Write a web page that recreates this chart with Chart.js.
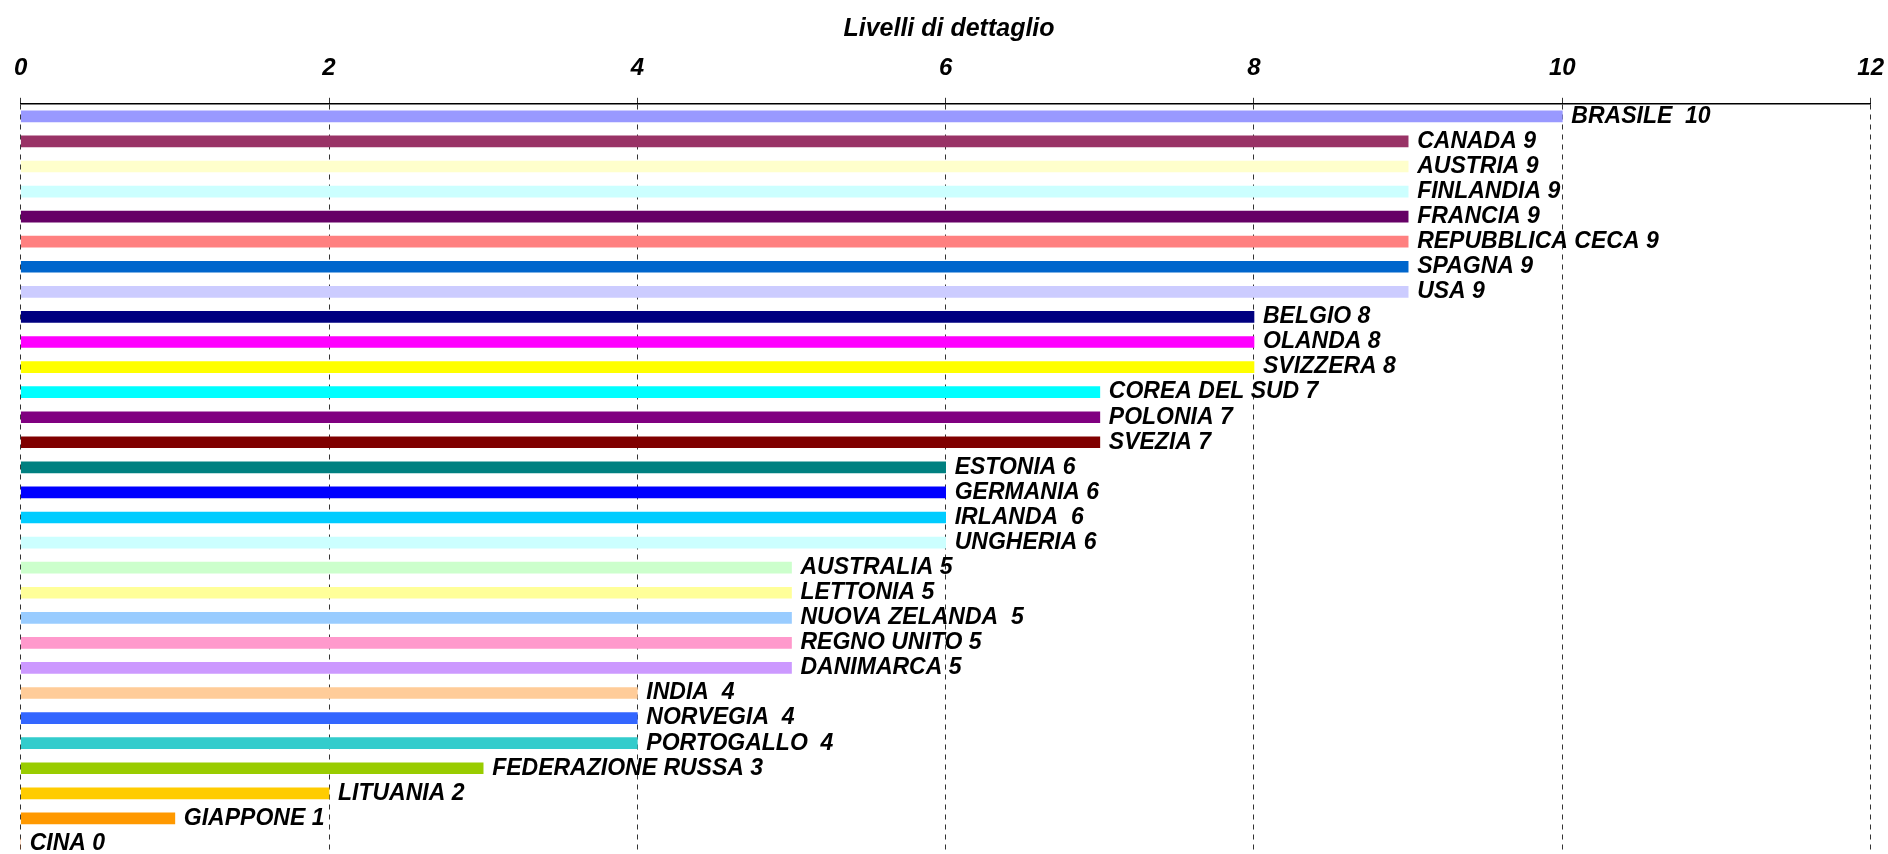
<!DOCTYPE html>
<html>
<head>
<meta charset="utf-8">
<script src="https://cdn.jsdelivr.net/npm/chart.js@4/dist/chart.umd.min.js"></script>
<style>
  body { margin: 0; overflow: hidden; background: #fff; }
  #wrap { position: relative; width: 1900px; height: 870px; margin-left: -1px; }
</style>
</head>
<body>
<div id="wrap"><canvas id="levelsChart"></canvas></div>
<script>
const countries = [
  "BRASILE", "CANADA", "AUSTRIA", "FINLANDIA", "FRANCIA", "REPUBBLICA CECA",
  "SPAGNA", "USA", "BELGIO", "OLANDA", "SVIZZERA", "COREA DEL SUD", "POLONIA",
  "SVEZIA", "ESTONIA", "GERMANIA", "IRLANDA", "UNGHERIA", "AUSTRALIA",
  "LETTONIA", "NUOVA ZELANDA", "REGNO UNITO", "DANIMARCA", "INDIA", "NORVEGIA",
  "PORTOGALLO", "FEDERAZIONE RUSSA", "LITUANIA", "GIAPPONE", "CINA",
];
const levels = [10, 9, 9, 9, 9, 9, 9, 9, 8, 8, 8, 7, 7, 7, 6, 6, 6, 6, 5, 5, 5, 5, 5, 4, 4, 4, 3, 2, 1, 0];
const barColors = [
  "#9999FF", "#993366", "#FFFFCC", "#CCFFFF", "#660066", "#FF8080",
  "#0066CC", "#CCCCFF", "#000080", "#FF00FF", "#FFFF00", "#00FFFF", "#800080",
  "#800000", "#008080", "#0000FF", "#00CCFF", "#CCFFFF", "#CCFFCC",
  "#FFFF99", "#99CCFF", "#FF99CC", "#CC99FF", "#FFCC99", "#3366FF",
  "#33CCCC", "#99CC00", "#FFCC00", "#FF9900", "#FF6600",
];
// labels printed with two spaces before the number
const wideGap = ["BRASILE", "IRLANDA", "NUOVA ZELANDA", "INDIA", "NORVEGIA", "PORTOGALLO"];
const xTicks = [0, 2, 4, 6, 8, 10, 12];

const fontFamily = "'Liberation Sans', Arial, sans-serif";

// writes "NAME value" just past the end of every bar
const barLabels = {
  id: "barLabels",
  afterDatasetsDraw(chart) {
    const ctx = chart.ctx;
    const meta = chart.getDatasetMeta(0);
    ctx.save();
    ctx.font = "italic bold 23px " + fontFamily;
    ctx.fillStyle = "#000";
    ctx.textAlign = "left";
    ctx.textBaseline = "middle";
    meta.data.forEach((bar, i) => {
      const name = countries[i];
      const sep = wideGap.includes(name) ? "  " : " ";
      ctx.fillText(name + sep + levels[i], bar.x + 9, bar.y);
    });
    ctx.restore();
  },
};

new Chart(document.getElementById("levelsChart"), {
  type: "bar",
  data: {
    labels: countries,
    datasets: [
      {
        data: levels,
        backgroundColor: barColors,
        borderWidth: 0,
        barThickness: 11,
      },
    ],
  },
  options: {
    indexAxis: "y",
    responsive: true,
    maintainAspectRatio: false,
    animation: false,
    layout: { padding: { left: 0, right: 0, top: 0, bottom: 14 } },
    plugins: {
      legend: { display: false },
      tooltip: { enabled: false },
      title: {
        display: true,
        text: "Livelli di dettaglio",
        color: "#000",
        font: { family: fontFamily, size: 25, weight: "bold", style: "italic", lineHeight: 0.8 },
        padding: { top: 19, bottom: 0 },
      },
    },
    scales: {
      x: {
        position: "top",
        min: 0,
        max: 12,
        afterBuildTicks(scale) {
          scale.ticks = xTicks.map((v) => ({ value: v }));
        },
        ticks: {
          color: "#000",
          padding: 15,
          font: { family: fontFamily, size: 24, weight: "bold", style: "italic" },
        },
        grid: {
          color: "#333",
          lineWidth: 1,
          tickLength: 6,
          tickBorderDash: [],
        },
        border: { display: true, color: "#000", width: 1.5, dash: [5, 5] },
      },
      y: { display: false },
    },
  },
  plugins: [barLabels],
});
</script>
</body>
</html>
